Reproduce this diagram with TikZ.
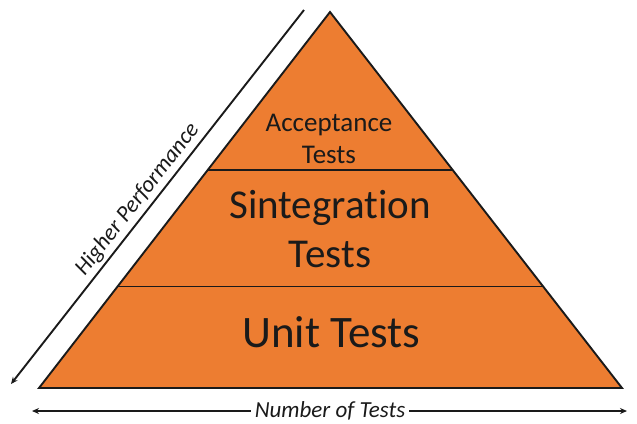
\documentclass[tikz,border=0pt]{standalone}
\usepackage{fontspec}
\setmainfont{Carlito}[Ligatures=NoCommon]
\usetikzlibrary{arrows.meta,calc}
\definecolor{pyrorange}{HTML}{ED7D31}
\definecolor{inkline}{HTML}{1A1A1A}
\tikzset{
  layerline/.style={draw=inkline, line width=1.2bp},
  axisarrow/.style={draw=inkline, line width=1.9bp, -{Stealth[length=7bp,width=6bp]}},
  label/.style={inner sep=0pt, text=inkline},
}
\begin{document}
\begin{tikzpicture}[x=1bp,y=-1bp]
\useasboundingbox (0,0) rectangle (637,423);
% pyramid
\coordinate (apex) at (330,12);
\coordinate (bl) at (39,388);
\coordinate (br) at (622,388);
\coordinate (l1a) at ($(apex)!0.42!(bl)$);
\coordinate (l1b) at ($(apex)!0.42!(br)$);
\coordinate (l2a) at ($(apex)!0.731!(bl)$);
\coordinate (l2b) at ($(apex)!0.731!(br)$);
\fill[pyrorange] (apex) -- (br) -- (bl) -- cycle;
\draw[layerline] (l1a) -- (l1b);
\draw[layerline] (l2a) -- (l2b);
\draw[inkline, line width=1.9bp, line join=miter] (apex) -- (br) -- (bl) -- cycle;
% labels
\node[label, align=center, font=\fontsize{27bp}{32bp}\selectfont] (acc) at (329,139) {Acceptance\\Tests};
\node[label, align=center, font=\fontsize{41bp}{49bp}\selectfont] (sint) at (330,229.5) {Sintegration\\Tests};
\node[label, anchor=base, font=\fontsize{45bp}{54bp}\selectfont] (unit) at (331.5,347) {Unit Tests};
% axes
\coordinate (hpTop) at (304,10);
\coordinate (hpBot) at (11,384);
\draw[axisarrow] (hpTop) -- (hpBot);
\path (hpBot) -- (hpTop) node[pos=0.47, sloped, above=4bp, label, font=\fontsize{23bp}{28bp}\itshape] (hp) {Higher Performance};
\coordinate (ntL) at (32,411);
\coordinate (ntR) at (627,411);
\draw[axisarrow, {Stealth[length=7bp,width=6bp]}-{Stealth[length=7bp,width=6bp]}] (ntL) -- (ntR);
\node[label, fill=white, inner xsep=4bp, inner ysep=2bp, anchor=base, font=\fontsize{23bp}{28bp}\itshape] (nt) at (330,417) {Number of Tests};
\end{tikzpicture}
\end{document}
